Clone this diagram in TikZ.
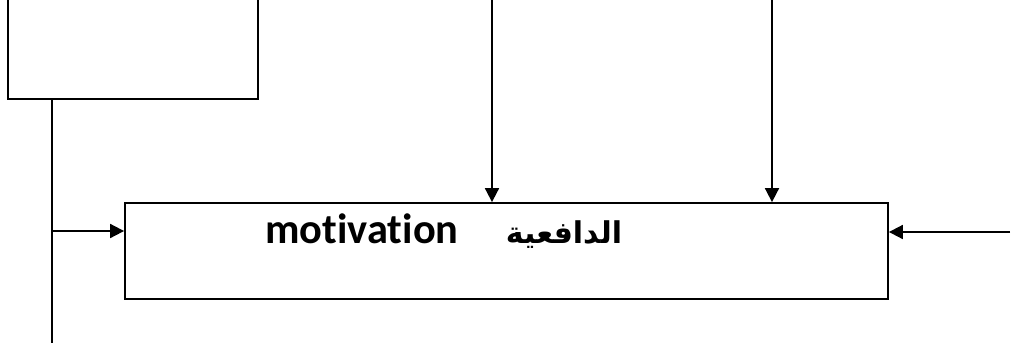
\documentclass[tikz,border=0pt]{standalone}
\usepackage{fontspec}
\setmainfont[Ligatures={NoCommon,NoDiscretionary}]{Carlito}
\newfontfamily\arabicfont[Script=Arabic]{DejaVu Sans}
\TeXXeTstate=1
\usetikzlibrary{arrows.meta,positioning}
\begin{document}
\begin{tikzpicture}[x=0.5pt,y=-0.5pt,line width=0.9pt,
 b/.style={draw,inner sep=0pt},
 a/.style={-{Triangle[length=7pt,width=7pt]}}]
\clip (0,0) rectangle (1017,343);
\node[b,minimum width=125pt,minimum height=69.5pt] (t) at (133,29.5) {};
\node[b,minimum width=381.5pt,minimum height=48pt] (m) at (506.5,251) {};
\node[anchor=base,font=\bfseries\fontsize{21.2}{24}\selectfont] (en) at (362,243) {motivation};
\node[anchor=base,font=\arabicfont\bfseries\fontsize{15}{18}\selectfont] (ar) at (564,243) {\beginR الدافعية\endR};
\coordinate (p) at (52,99);\coordinate (q) at (52,343);\coordinate (j) at (52,231);
\coordinate (u1) at (492,-5);\coordinate (u2) at (772,-5);\coordinate (r) at (1010,232);
\draw (p)--(q);
\draw[a] (j)--(j-|m.west);
\draw[a] (u1)--(u1|-m.north);\draw[a] (u2)--(u2|-m.north);
\draw[a] (r)--(r-|m.east);
\end{tikzpicture}
\end{document}
